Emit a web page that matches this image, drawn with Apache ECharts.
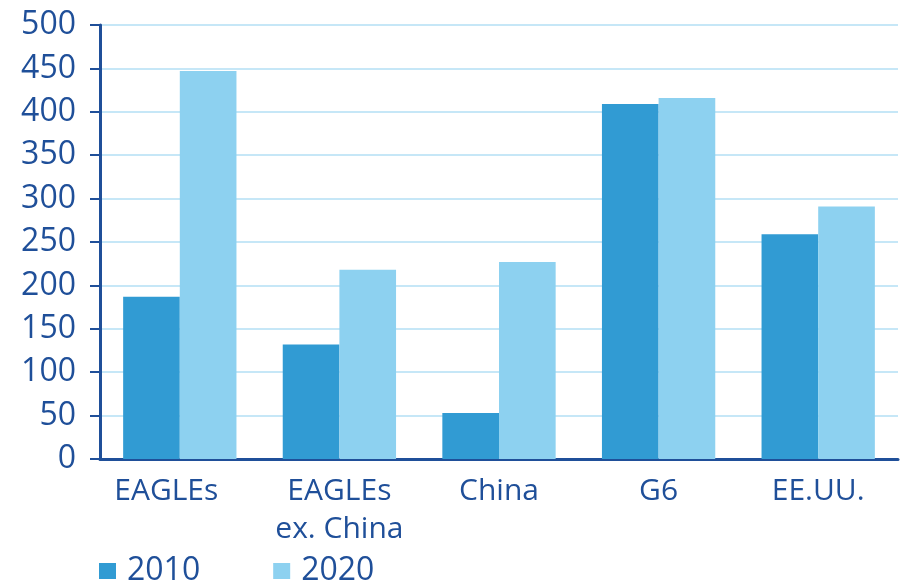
<!DOCTYPE html>
<html><head><meta charset="utf-8">
<script src="https://cdn.jsdelivr.net/npm/echarts@6/dist/echarts.min.js"></script>
<style>html,body{margin:0;padding:0;background:#fff}#c{width:906px;height:583px}</style>
</head><body><div id="c"></div>
<script>
const categories = ['EAGLEs', 'EAGLEs\nex. China', 'China', 'G6', 'EE.UU.'];
const series2010 = [187, 132, 53, 409, 259];
const series2020 = [447, 218, 227, 416, 291];
const seriesNames = ['2010', '2020'];

const chart = echarts.init(document.getElementById('c'));
const dark = '#1f4f99';
chart.setOption({
  animation: false,
  textStyle: { fontFamily: 'Open Sans' },
  grid: { left: 100, right: 8, top: 25, bottom: 124 },
  legend: {
    left: 94, bottom: -9, itemWidth: 17, itemHeight: 16, itemGap: 73,
    icon: 'rect',
    textStyle: { color: dark, fontSize: 32, fontFamily: 'Open Sans', padding: [0, 0, 0, 6] },
    data: seriesNames
  },
  xAxis: {
    type: 'category', data: categories,
    axisLine: { lineStyle: { color: dark, width: 3 } },
    axisTick: { length: 8, lineStyle: { color: dark, width: 2 } },
    axisLabel: {
      color: dark, fontSize: 30, margin: 13, lineHeight: 38, interval: 0, fontFamily: 'Open Sans',
      formatter: (v, i) => i === 0 ? '{s|' + v + '}' : v,
      rich: { s: { color: dark, fontSize: 30, lineHeight: 38, fontFamily: 'Open Sans', padding: [0, 27, 0, 0] } }
    }
  },
  yAxis: {
    type: 'value', min: 0, max: 500, interval: 50,
    axisLine: { show: true, lineStyle: { color: dark, width: 3 } },
    axisTick: { show: true, length: 10, lineStyle: { color: dark, width: 2 } },
    axisLabel: { color: dark, fontSize: 32, margin: 24, fontFamily: 'Open Sans' },
    splitLine: { lineStyle: { color: '#c6e7f7', width: 2 } }
  },
  series: [
    { name: seriesNames[0], type: 'bar', data: series2010, barGap: '0%', barCategoryGap: '29%',
      itemStyle: { color: '#319bd3' } },
    { name: seriesNames[1], type: 'bar', data: series2020, barGap: '0%', barCategoryGap: '29%',
      itemStyle: { color: '#8dd1f0' } }
  ]
});
</script></body></html>
